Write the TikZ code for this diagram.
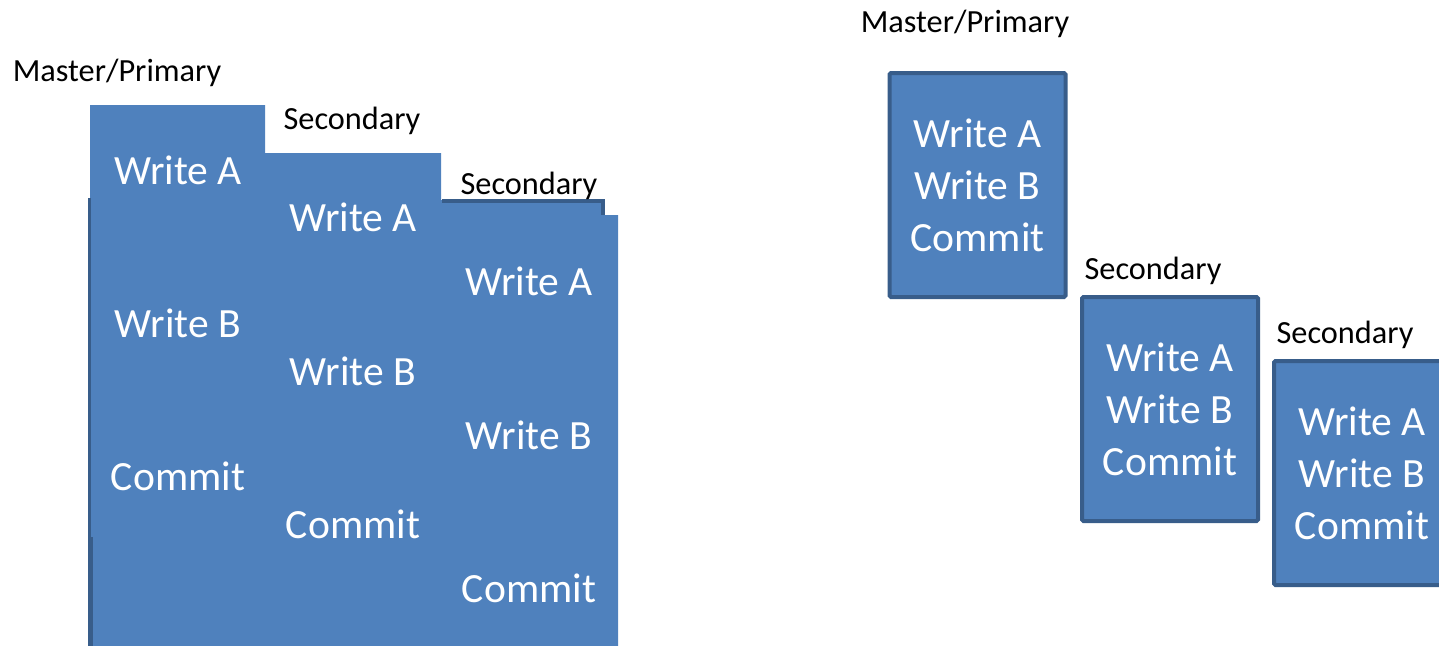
\documentclass[tikz,border=0pt]{standalone}
\usepackage{fontspec}
\setmainfont{Carlito}
\definecolor{boxfill}{HTML}{4F81BD}
\definecolor{boxline}{HTML}{385D8A}
\tikzset{
  lbl/.style={inner sep=0pt, font=\fontsize{32.3}{38}\selectfont, text=black},
  optxt/.style={inner sep=0pt, font=\fontsize{41.6}{52}\selectfont, text=white},
  nodebox/.style={draw=boxline, line width=4pt, fill=boxfill, rounded corners=1.5pt,
    minimum width=176pt, minimum height=224pt, inner sep=0pt, align=center,
    font=\fontsize{41.6}{52}\selectfont, text=white},
  edgeline/.style={draw=boxline, line width=4pt}
}
\begin{document}
\begin{tikzpicture}[x=1pt,y=-1pt]
\useasboundingbox (0,0) rectangle (1439,645);
\clip (0,0) rectangle (1439,645);
% ---------- left: overlapping timelines ----------
\fill[boxfill] (90,105) -- (265,105) -- (265,153) -- (441,153) -- (441,200) -- (603,200)
  -- (603,215) -- (618,215) -- (618,650) -- (90,650) -- cycle;
\coordinate (s2a) at (442,201);
\coordinate (s2b) at (603,201);
\coordinate (s2c) at (603,215);
\draw[edgeline, line width=3.5pt] (s2a) -- (s2b) -- (s2c);
\coordinate (m1) at (89,198);
\coordinate (m2) at (89,537);
\coordinate (m3) at (90.5,537);
\coordinate (m4) at (90.5,650);
\draw[edgeline, line width=3pt] (m1) -- (m2);
\draw[edgeline, line width=4.5pt] (m3) -- (m4);

\node[lbl] (lmaster) at (117,73) {Master/Primary};
\node[lbl] (lsec1) at (352,121) {Secondary};
\node[lbl] (lsec2) at (529,186) {Secondary};

\node[optxt] (ma) at (178,170) {Write A};
\node[optxt] (mb) at (178,323) {Write B};
\node[optxt] (mc) at (178,476) {Commit};
\node[optxt] (sa) at (353,217) {Write A};
\node[optxt] (sb) at (353,371) {Write B};
\node[optxt] (sc) at (353,524) {Commit};
\node[optxt] (ta) at (529,281) {Write A};
\node[optxt] (tb) at (529,435) {Write B};
\node[optxt] (tc) at (529,588) {Commit};

% ---------- right: separate boxes ----------
\node[lbl] (rmaster) at (965,24) {Master/Primary};
\node[nodebox] (rb1) at (977.5,185) {Write A\\Write B\\Commit};
\node[lbl] (rsec1) at (1153,271) {Secondary};
\node[nodebox] (rb2) at (1170,409) {Write A\\Write B\\Commit};
\node[lbl] (rsec2) at (1345,335) {Secondary};
\node[nodebox] (rb3) at (1362,473) {Write A\\Write B\\Commit};
\end{tikzpicture}
\end{document}
